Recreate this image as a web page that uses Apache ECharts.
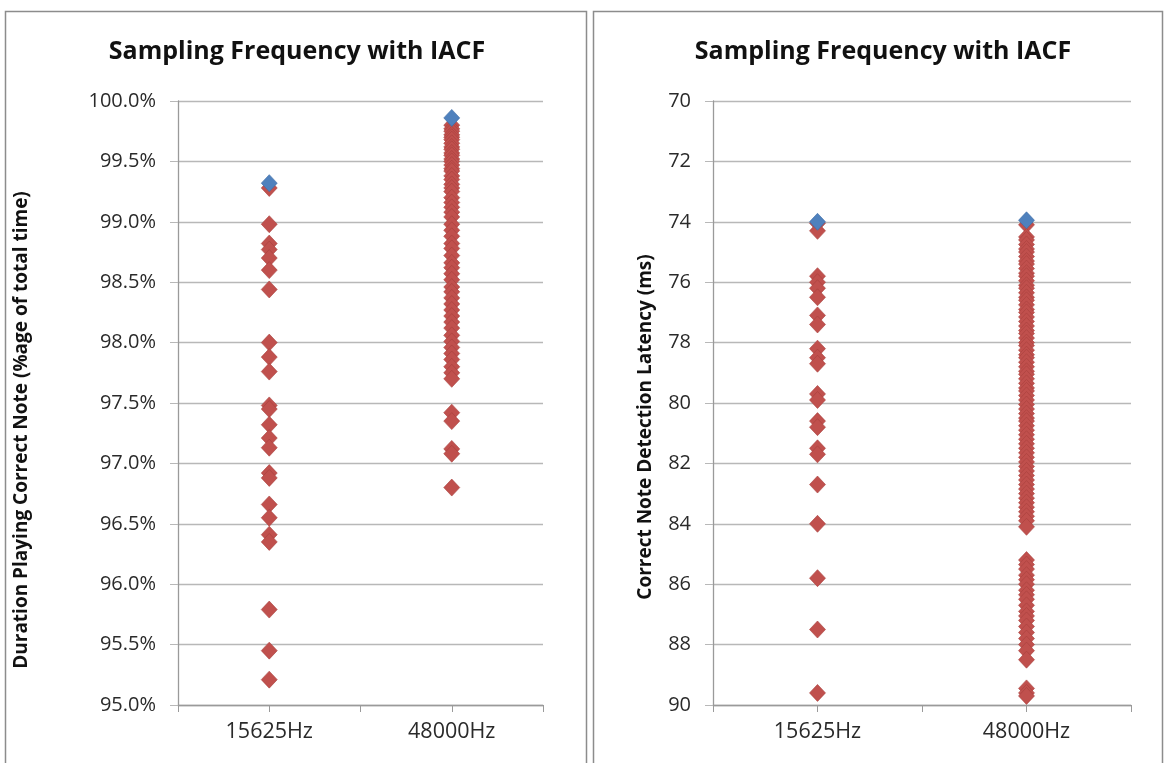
<!DOCTYPE html>
<html>
<head>
<meta charset="utf-8">
<script src="https://cdn.jsdelivr.net/npm/echarts@6/dist/echarts.min.js"></script>
<style>html,body{margin:0;padding:0;background:#fff}#c{width:1168px;height:763px}</style>
</head>
<body>
<div id="c"></div>
<script>
const categories = ['15625Hz', '48000Hz'];
const titleText = 'Sampling Frequency with IACF';
const leftAxisName = 'Duration Playing Correct Note (%age of total time)';
const rightAxisName = 'Correct Note Detection Latency (ms)';

// Left chart (percent of time), best point per category (blue)
const durBest = [99.32, 99.86];
// Left chart, all runs (red)
const dur15625 = [99.28, 98.98, 98.82, 98.77, 98.70, 98.60, 98.44, 98.00, 97.88, 97.76, 97.48, 97.45, 97.32, 97.21, 97.13, 96.92, 96.88, 96.66, 96.55, 96.41, 96.35, 95.79, 95.45, 95.21];
const dur48000 = [99.80, 99.77, 99.75, 99.72, 99.70, 99.68, 99.65, 99.62, 99.60, 99.57, 99.55, 99.52, 99.50, 99.47, 99.44, 99.42, 99.38, 99.35, 99.31, 99.28, 99.25, 99.20, 99.16, 99.12, 99.08, 99.04, 98.98, 98.93, 98.88, 98.82, 98.78, 98.72, 98.66, 98.62, 98.57, 98.52, 98.46, 98.42, 98.37, 98.32, 98.27, 98.22, 98.17, 98.12, 98.06, 98.01, 97.96, 97.91, 97.86, 97.80, 97.75, 97.70, 97.42, 97.35, 97.12, 97.08, 96.80];

// Right chart (latency ms)
const latBest = [74.0, 73.95];
const lat15625 = [74.05, 74.3, 75.8, 76.0, 76.2, 76.5, 77.1, 77.4, 78.2, 78.5, 78.7, 79.7, 79.9, 80.6, 80.8, 81.5, 81.7, 82.7, 84.0, 85.8, 87.5, 89.6];
const lat48000 = [74.1, 74.5, 74.6, 74.75, 74.9, 75.0, 75.15, 75.3, 75.4, 75.55, 75.7, 75.8, 75.95, 76.1, 76.2, 76.35, 76.5, 76.6, 76.75, 76.9, 77.0, 77.15, 77.3, 77.45, 77.6, 77.7, 77.85, 78.0, 78.1, 78.25, 78.4, 78.5, 78.65, 78.8, 78.95, 79.05, 79.2, 79.35, 79.5, 79.6, 79.75, 79.9, 80.05, 80.2, 80.35, 80.5, 80.6, 80.75, 80.9, 81.05, 81.2, 81.35, 81.5, 81.65, 81.8, 81.95, 82.1, 82.25, 82.4, 82.55, 82.7, 82.85, 83.0, 83.15, 83.3, 83.45, 83.6, 83.75, 83.9, 84.1, 85.2, 85.35, 85.5, 85.7, 85.85, 86.0, 86.2, 86.35, 86.5, 86.7, 86.9, 87.05, 87.2, 87.4, 87.6, 87.8, 88.0, 88.2, 88.5, 89.45, 89.6, 89.7];

const durTicks = { min: 95, max: 100, interval: 0.5 };
const latTicks = { min: 70, max: 90, interval: 2 };

const RED = '#C0504D', BLUE = '#4F81BD';
const FONT = 'Open Sans';

function pairs(cat, arr) { return arr.map(v => [cat, v]); }

const chart = echarts.init(document.getElementById('c'), null, { renderer: 'canvas' });

const gridLine = { show: true, lineStyle: { color: '#b8b8b8', width: 1.3 } };
const axisLineStyle = { show: true, onZero: false, lineStyle: { color: '#9a9a9a', width: 1.3 } };
const labelStyle = { color: '#2a2a2a', fontFamily: FONT, fontSize: 20 };

function xAxes(gridIndex) {
  return [
    { type: 'category', gridIndex, data: categories, boundaryGap: true, position: 'bottom',
      axisLine: axisLineStyle, axisTick: { show: true, length: 7, lineStyle: { color: '#9a9a9a' } },
      axisLabel: Object.assign({ margin: 16 }, labelStyle, { fontSize: 21.5 }), splitLine: { show: false } },
    { type: 'category', gridIndex, data: categories, boundaryGap: true, position: 'bottom',
      axisLine: { show: false }, axisTick: { show: true, alignWithLabel: true, length: 7, lineStyle: { color: '#9a9a9a' } },
      axisLabel: { show: false }, splitLine: { show: false } }
  ];
}

const itemRed = { color: RED, borderColor: '#A8403D', borderWidth: 0.6, opacity: 1 };
const itemBlue = { color: BLUE, borderColor: '#3A6AA5', borderWidth: 0.6, opacity: 1 };

const option = {
  backgroundColor: '#fff',
  animation: false,
  title: [
    { text: titleText, left: 292, top: 34, textAlign: 'center',
      textStyle: { fontFamily: FONT, fontWeight: 'bold', fontSize: 25, color: '#111' } },
    { text: titleText, left: 878, top: 34, textAlign: 'center',
      textStyle: { fontFamily: FONT, fontWeight: 'bold', fontSize: 25, color: '#111' } }
  ],
  graphic: [
    { type: 'rect', shape: { x: 5.5, y: 11.5, width: 581, height: 800 }, style: { fill: 'none', stroke: '#8c8c8c', lineWidth: 1.5 }, z: -1 },
    { type: 'rect', shape: { x: 593.5, y: 11.5, width: 569, height: 800 }, style: { fill: 'none', stroke: '#8c8c8c', lineWidth: 1.5 }, z: -1 }
  ],
  grid: [
    { left: 178, right: 1168 - 543, top: 101, bottom: 58 },
    { left: 713, right: 1168 - 1131, top: 101, bottom: 58 }
  ],
  xAxis: [...xAxes(0), ...xAxes(1)],
  yAxis: [
    { type: 'value', gridIndex: 0, min: durTicks.min, max: durTicks.max, interval: durTicks.interval,
      name: leftAxisName, nameLocation: 'middle', nameGap: 147, nameRotate: 90,
      nameTextStyle: { fontFamily: FONT, fontWeight: 'bold', fontSize: 19, color: '#111', padding: [0, 54, 0, 0] },
      axisLine: axisLineStyle, axisTick: { show: true, length: 8, lineStyle: { color: '#b8b8b8' } },
      splitLine: gridLine,
      axisLabel: Object.assign({ margin: 22, formatter: v => v.toFixed(1) + '%' }, labelStyle) },
    { type: 'value', gridIndex: 1, min: latTicks.min, max: latTicks.max, interval: latTicks.interval, inverse: true,
      name: rightAxisName, nameLocation: 'middle', nameGap: 58, nameRotate: 90,
      nameTextStyle: { fontFamily: FONT, fontWeight: 'bold', fontSize: 19, color: '#111', padding: [0, 48, 0, 0] },
      axisLine: axisLineStyle, axisTick: { show: true, length: 8, lineStyle: { color: '#b8b8b8' } },
      splitLine: gridLine,
      axisLabel: Object.assign({ margin: 22 }, labelStyle) }
  ],
  series: [
    { type: 'scatter', xAxisIndex: 0, yAxisIndex: 0, symbol: 'diamond', symbolSize: [16, 17], z: 2,
      itemStyle: itemRed,
      data: [...pairs(categories[0], dur15625), ...pairs(categories[1], dur48000)] },
    { type: 'scatter', xAxisIndex: 0, yAxisIndex: 0, symbol: 'diamond', symbolSize: [16, 17], z: 3,
      itemStyle: itemBlue,
      data: categories.map((c, i) => [c, durBest[i]]) },
    { type: 'scatter', xAxisIndex: 2, yAxisIndex: 1, symbol: 'diamond', symbolSize: [16, 17], z: 2,
      itemStyle: itemRed,
      data: [...pairs(categories[0], lat15625), ...pairs(categories[1], lat48000)] },
    { type: 'scatter', xAxisIndex: 2, yAxisIndex: 1, symbol: 'diamond', symbolSize: [16, 17], z: 3,
      itemStyle: itemBlue,
      data: categories.map((c, i) => [c, latBest[i]]) }
  ]
};
chart.setOption(option);
</script>
</body>
</html>
